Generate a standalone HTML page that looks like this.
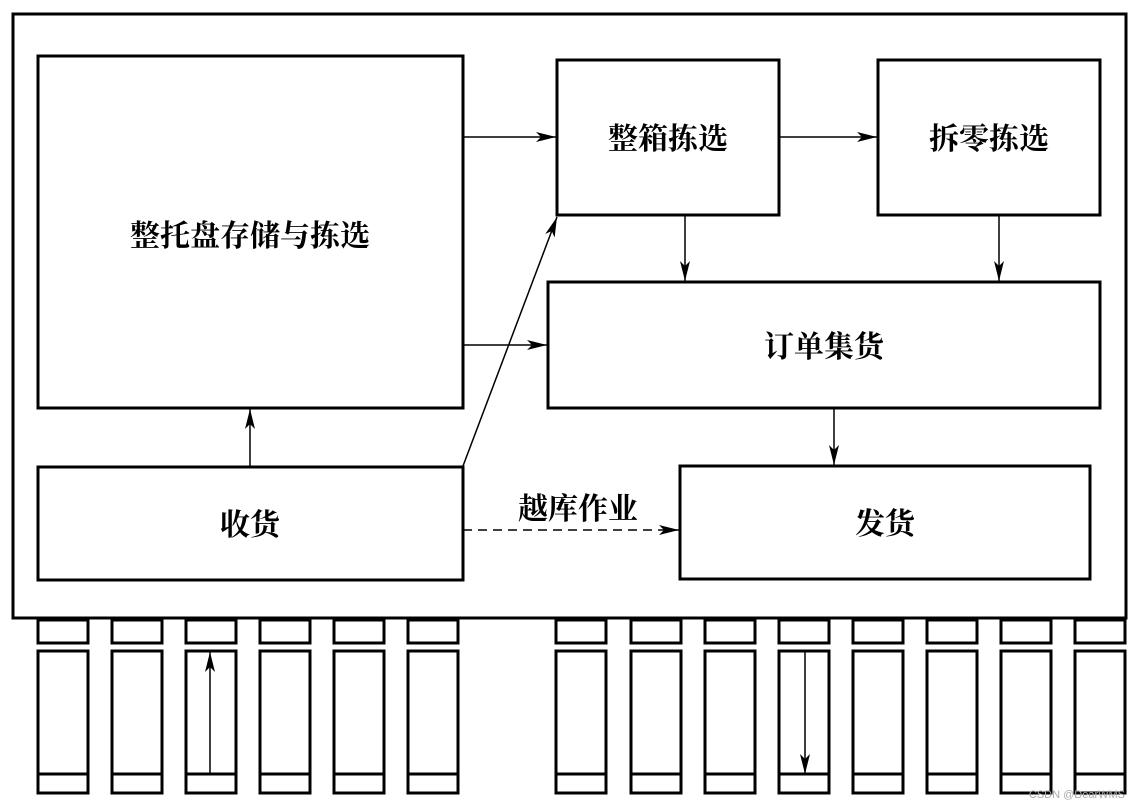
<!DOCTYPE html><html><head><meta charset="utf-8"><style>body{margin:0;background:#fff}svg{display:block}</style></head><body>
<svg width="1139" height="807" viewBox="0 0 1139 807" xmlns="http://www.w3.org/2000/svg">
<defs><marker id="a" viewBox="0 0 20 10" refX="20" refY="5" markerWidth="20" markerHeight="10" markerUnits="userSpaceOnUse" orient="auto"><path d="M0,0 L20,5 L0,10 L5,5 Z" fill="#000"/></marker></defs>
<g fill="none" stroke="#000" stroke-width="3">
<rect x="13" y="14" width="1113" height="604"/>
<rect x="38" y="56" width="425" height="352"/>
<rect x="557" y="60" width="222" height="155"/>
<rect x="878" y="60" width="222" height="155"/>
<rect x="548" y="282" width="552" height="126"/>
<rect x="38" y="467" width="425" height="113"/>
<rect x="680" y="466" width="410" height="113"/>
</g>
<g stroke="#000" stroke-width="1.5" marker-end="url(#a)">
<line x1="463" y1="137" x2="556" y2="137"/>
<line x1="779" y1="137" x2="877" y2="137"/>
<line x1="685" y1="215" x2="685" y2="281"/>
<line x1="999" y1="215" x2="999" y2="281"/>
<line x1="463" y1="345" x2="547" y2="345"/>
<line x1="834" y1="408" x2="834" y2="465"/>
<line x1="250" y1="467" x2="250" y2="409"/>
<line x1="463" y1="466" x2="557" y2="217"/>
<line x1="463" y1="530" x2="679" y2="530" stroke-dasharray="9,6"/>
<line x1="210" y1="774" x2="210" y2="652"/>
<line x1="805" y1="652" x2="805" y2="774"/>
</g>
<g fill="none" stroke="#000" stroke-width="3">
<g id="d"><rect x="38" y="620" width="50" height="23"/><rect x="38" y="651" width="50" height="142"/><line x1="38" y1="774" x2="88" y2="774"/></g>
<use href="#d" x="74"/><use href="#d" x="148"/><use href="#d" x="222"/><use href="#d" x="296"/><use href="#d" x="370"/>
<use href="#d" x="518"/><use href="#d" x="593"/><use href="#d" x="667"/><use href="#d" x="741"/><use href="#d" x="815"/><use href="#d" x="889"/><use href="#d" x="963"/><use href="#d" x="1037"/>
</g>
<g font-family="'Liberation Serif','Noto Serif CJK SC',serif" font-size="30" font-weight="bold" text-anchor="middle" fill="#000">
<text x="250" y="246">整托盘存储与拣选</text>
<text x="668" y="149">整箱拣选</text>
<text x="989" y="149">拆零拣选</text>
<text x="824" y="357">订单集货</text>
<text x="250" y="535">收货</text>
<text x="885" y="534">发货</text>
<text x="578" y="519">越库作业</text>
</g>
<text x="1125" y="798" font-family="'Liberation Sans',sans-serif" font-size="11" fill="#aaa" text-anchor="end">CSDN @DearWMS</text>
</svg></body></html>
